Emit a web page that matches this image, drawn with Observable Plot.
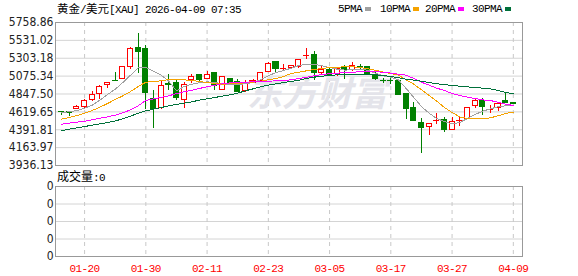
<!DOCTYPE html>
<html><head><meta charset="utf-8">
<script src="https://cdn.jsdelivr.net/npm/d3@7"></script>
<script src="https://cdn.jsdelivr.net/npm/@observablehq/plot@0.6"></script>
<style>
body{margin:0;background:#fff;}
#wrap{position:relative;width:578px;height:276px;overflow:hidden;}
.abs{position:absolute;white-space:nowrap;line-height:14px;color:#000;}
.cjk{font-family:"Noto Sans CJK SC";font-size:12px;}
.mono{font-family:"Liberation Mono";font-size:11px;letter-spacing:-0.6px;}
.sq{position:absolute;width:6px;height:4px;}
#title{position:absolute;white-space:nowrap;color:#000;font-family:"Noto Sans CJK SC";font-size:11.5px;line-height:normal;}
#title .c{font-family:"Noto Sans CJK SC";font-size:11.5px;}
</style></head><body>
<div id="wrap">
  <div class="abs" id="main" style="left:0;top:0"></div>
  <div class="abs" id="vol" style="left:0;top:170px"></div>
  <div id="title" style="left:57px;top:0px"></div>
  <div id="legend"></div>
  <div class="abs" id="voltitle" style="left:57px;top:169px"></div>
</div>
<script>
const titleCjk = "黄金/美元";
const titleRest = "[XAU] 2026-04-09 07:35";
const volLabel = "成交量";
const volValue = ":0";
const watermark = "东方财富";

const dates = ["01-15","01-16","01-19","01-20","01-21","01-22","01-23","01-26","01-27","01-28",
  "01-29","01-30","02-02","02-03","02-04","02-05","02-06","02-09","02-10","02-11",
  "02-12","02-13","02-16","02-17","02-18","02-19","02-20","02-23","02-24","02-25",
  "02-26","02-27","03-02","03-03","03-04","03-05","03-06","03-09","03-10","03-11",
  "03-12","03-13","03-16","03-17","03-18","03-19","03-20","03-23","03-24","03-25",
  "03-26","03-27","03-30","03-31","04-01","04-02","04-06","04-07","04-08","04-09"];
const open = [4622,4614,4654,4684,4773,4845,4960,5013,5036,5194, 5440,5419,4781,4675,4971,4994,4773,5024,5087,5036,
  5109,4900,5045,5003,4888,4990,5015,5130,5257,5160, 5181,5198,5330,5347,5113,5155,5100,5198,5155,5198,
  5198,5087,5017,5017,5015,4845,4663,4484,4429,4497, 4518,4391,4497,4527,4697,4761,4640,4671,4752,4739];
const high = [4622,4614,4696,4773,4879,4952,4990,5121,5194,5440, 5619,5461,4888,5003,5100,5024,4994,5100,5087,5130,
  5109,5058,5050,5028,5015,5028,5121,5249,5257,5219, 5215,5283,5427,5389,5215,5172,5172,5215,5249,5228,
  5198,5121,5045,5045,5028,4845,4739,4535,4471,4603, 4548,4548,4561,4667,4790,4790,4697,4739,4867,4739];
const low = [4578,4556,4654,4663,4752,4782,4918,5003,5028,5164, 5113,4654,4410,4646,4888,4769,4667,4985,5002,5028,
  4888,4896,4990,4866,4866,4981,5003,5121,5113,5143, 5164,5177,5283,5015,5087,5079,5070,5028,5130,5164,
  5079,5024,4981,4973,4824,4518,4497,4093,4314,4463, 4357,4378,4429,4518,4667,4578,4603,4620,4735,4718];
const close = [4618,4610,4684,4756,4837,4939,4990,5009,5194,5427, 5389,4866,4654,4952,4967,4794,4964,5066,5028,5092,
  4952,5058,4994,4879,4981,5011,5109,5236,5164,5168, 5206,5283,5334,5113,5155,5087,5164,5155,5206,5194,
  5092,5036,5013,5013,4832,4654,4497,4412,4471,4505, 4386,4493,4505,4667,4761,4684,4646,4714,4735,4718];
const volume = [0,0,0,0,0,0,0,0,0,0, 0,0,0,0,0,0,0,0,0,0, 0,0,0,0,0,0,0,0,0,0,
  0,0,0,0,0,0,0,0,0,0, 0,0,0,0,0,0,0,0,0,0, 0,0,0,0,0,0,0,0,0,0];

const ma5 = [4612,4620,4637,4667,4705,4769,4841,4909,4994,5087, 5181,5189,5138,5087,5011,4888,4943,4973,4990,5002,
  4994,4977,4969,4969,4977,4994,5028,5079,5122,5147, 5177,5211,5228,5228,5207,5185,5164,5151,5160,5164,
  5151,5113,5079,5062,5028,4918,4803,4688,4603,4535, 4497,4467,4484,4535,4586,4629,4658,4684,4697,4701];
const ma10 = [4527,4548,4573,4603,4637,4680,4726,4777,4824,4879, 4943,4998,5007,5015,5032,5037,5028,5020,5007,4994,
  4981,4973,4977,4981,4990,4998,5011,5028,5045,5071, 5109,5126,5143,5160,5173,5185,5189,5194,5194,5185,
  5168,5151,5126,5109,5088,5028,4973,4901,4828,4756, 4675,4612,4556,4535,4531,4531,4544,4569,4599,4616];
const ma20 = [4463,4476,4488,4501,4518,4539,4556,4578,4607,4646, 4697,4765,4786,4803,4824,4854,4875,4896,4918,4939,
  4960,4977,4990,4994,4998,5003,5007,5011,5015,5020, 5028,5045,5062,5079,5096,5105,5113,5122,5126,5130,
  5130,5130,5126,5113,5100,5088,5045,4998,4960,4922, 4892,4854,4828,4807,4790,4773,4764,4743,4718,4701];
const ma30 = [4382,4399,4416,4433,4450,4467,4484,4505,4531,4565, 4603,4633,4654,4675,4697,4714,4731,4748,4769,4786,
  4803,4820,4837,4858,4888,4913,4939,4960,4977,4994, 5007,5024,5045,5062,5075,5083,5092,5096,5100,5100,
  5096,5092,5083,5071,5054,5037,5024,5011,4994,4977, 4969,4956,4947,4939,4930,4922,4913,4892,4867,4850];

const yTicks = [3936.13, 4163.97, 4391.81, 4619.65, 4847.50, 5075.34, 5303.18, 5531.02, 5758.86];
const volTickLabels = ["0","0","0","0","0"];
const xTickDates = ["01-20","01-30","02-11","02-23","03-05","03-17","03-27","04-09"];
const maNames = ["5PMA","10PMA","20PMA","30PMA"];
const maColors = ["#a0a0a0","#f5a200","#ff00ff","#00703a"];
const upColor = "#ff0000", downColor = "#008000";

const maSeries = [ma5, ma10, ma20, ma30];
const candles = dates.map((d, i) => ({i, date: d, open: open[i], high: high[i], low: low[i], close: close[i], vol: volume[i]}));
const ups = candles.filter(d => d.close >= d.open);
const downs = candles.filter(d => d.close < d.open);
const xTicks = xTickDates.map(d => dates.indexOf(d));
const xDomain = [-0.8, dates.length + 0.2];
const axisFont = "DejaVu Sans Condensed, DejaVu Sans";

const maMarks = maSeries.map((s, k) =>
  Plot.line(s.map((v, i) => ({i, v})), {x: "i", y: "v", stroke: maColors[k], strokeWidth: 1, shapeRendering: "crispEdges"}));

function candleMarks(rows, color, fill) {
  return [
    Plot.ruleX(rows, {x: "i", y1: "low", y2: "high", stroke: color, strokeWidth: 1, shapeRendering: "crispEdges"}),
    Plot.rect(rows, {x1: d => d.i - 0.5, x2: d => d.i + 0.5, insetLeft: 1.3, insetRight: 1.3,
      y1: "open", y2: "close", fill, stroke: color, strokeWidth: 1, shapeRendering: "crispEdges"})
  ];
}

const main = Plot.plot({
  width: 578, height: 176, marginTop: 22, marginBottom: 11, marginLeft: 55, marginRight: 56,
  style: {background: "transparent", overflow: "visible"},
  x: {domain: xDomain, axis: null},
  y: {domain: [yTicks[0], yTicks[yTicks.length - 1]], axis: null},
  marks: [
    Plot.ruleY(yTicks, {stroke: "#d4d4d4"}),
    Plot.ruleX(xTicks, {stroke: "#c8c8c8", strokeDasharray: "4,4"}),
    Plot.text([watermark], {frameAnchor: "middle", dx: 28, dy: 1, text: d => d, fill: "#e4e4ea",
      fontSize: 35, fontWeight: "bold", fontStyle: "italic", fontFamily: "Noto Sans CJK SC"}),
    Plot.frame({stroke: "#999"}),
    ...candleMarks(downs, downColor, downColor),
    ...candleMarks(ups, upColor, "#ffffff"),
    ...maMarks,
    Plot.text(yTicks, {y: d => d, frameAnchor: "left", dx: -2, textAnchor: "end", lineAnchor: "middle",
      text: d => d.toFixed(2), fill: "#222", fontSize: 12, fontFamily: axisFont})
  ]
});
document.getElementById("main").appendChild(main);

const vol = Plot.plot({
  width: 578, height: 106, marginTop: 16, marginBottom: 20, marginLeft: 55, marginRight: 56,
  style: {background: "transparent", overflow: "visible"},
  x: {domain: xDomain, axis: null},
  y: {domain: [0, volTickLabels.length - 1], axis: null},
  marks: [
    Plot.ruleY(d3.range(volTickLabels.length), {stroke: "#d4d4d4"}),
    Plot.ruleX(xTicks, {stroke: "#c8c8c8", strokeDasharray: "4,4"}),
    Plot.frame({stroke: "#999"}),
    Plot.rect(candles, {x1: d => d.i - 0.5, x2: d => d.i + 0.5, insetLeft: 1.3, insetRight: 1.3, y1: 0, y2: "vol", fill: downColor}),
    Plot.text(d3.range(volTickLabels.length), {y: d => d, frameAnchor: "left", dx: -2, textAnchor: "end", lineAnchor: "middle",
      text: d => volTickLabels[d], fill: "#222", fontSize: 12, fontFamily: axisFont}),
    Plot.text(xTicks, {x: d => d, frameAnchor: "bottom", dy: 12, lineAnchor: "middle", text: d => dates[d],
      fill: "#ff0000", fontSize: 11, fontFamily: "Liberation Mono"})
  ]
});
document.getElementById("vol").appendChild(vol);
vol.querySelectorAll("text").forEach(t => { if (t.parentNode.getAttribute("fill") === "#ff0000" || t.getAttribute("fill") === "#ff0000") t.style.letterSpacing = "-0.6px"; });

document.getElementById("title").innerHTML =
  `<span class="c">${titleCjk.slice(0,2)}</span><span class="mono">/</span><span class="c">${titleCjk.slice(3)}</span><span class="mono">${titleRest}</span>`;
document.getElementById("voltitle").innerHTML =
  `<span class="cjk">${volLabel}</span><span class="mono">${volValue}</span>`;

const legendX = [338, 380, 425, 472];
const legend = document.getElementById("legend");
maNames.forEach((n, k) => {
  const t = document.createElement("div");
  t.className = "abs mono";
  t.style.left = legendX[k] + "px"; t.style.top = "2px";
  t.textContent = n;
  legend.appendChild(t);
  const s = document.createElement("div");
  s.className = "sq";
  s.style.left = (legendX[k] + n.length * 6 + 3) + "px"; s.style.top = "7px";
  s.style.background = maColors[k];
  legend.appendChild(s);
});
</script>
</body></html>
